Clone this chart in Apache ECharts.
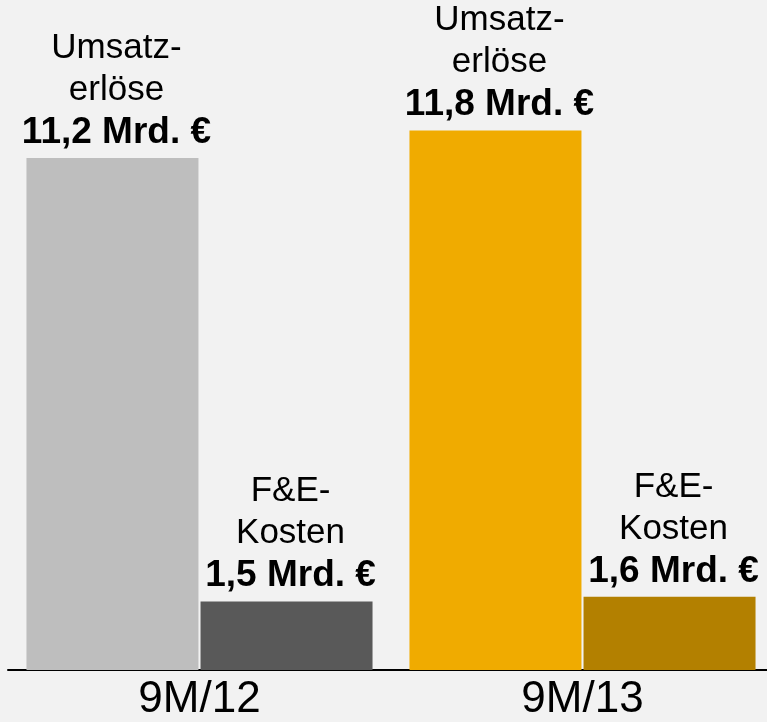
<!DOCTYPE html>
<html>
<head>
<meta charset="utf-8">
<script src="https://cdn.jsdelivr.net/npm/echarts@6/dist/echarts.min.js"></script>
<style>
html,body{margin:0;padding:0;background:#F2F2F2;}
#chart{width:767px;height:722px;}
</style>
</head>
<body>
<div id="chart"></div>
<script>
const categories = ['9M/12', '9M/13'];
const revenue = [11.2, 11.8];
const rdCosts = [1.5, 1.6];
const revenueTitle = 'Umsatz-\nerlöse';
const rdTitle = 'F&E-\nKosten';
const revenueColors = ['#BEBEBE', '#F0AB00'];
const rdColors = ['#595959', '#B38000'];

const FONT = '"Liberation Sans", Arial, sans-serif';
function fmt(v) { return v.toFixed(1).replace('.', ',') + ' Mrd. €'; }
function labelFor(title) {
  return {
    show: true,
    position: 'top',
    distance: 4,
    offset: [4, 0],
    align: 'center',
    formatter: function (p) {
      return title.split('\n').map(function (t) { return '{n|' + t + '}'; }).join('\n') + '\n{b|' + fmt(p.value) + '}';
    },
    rich: {
      n: { fontFamily: FONT, fontSize: 35, lineHeight: 42, color: '#000' },
      b: { fontFamily: FONT, fontSize: 37, fontWeight: 'bold', lineHeight: 43, color: '#000' }
    }
  };
}

const chart = echarts.init(document.getElementById('chart'), null, { renderer: 'canvas' });
chart.setOption({
  backgroundColor: '#F2F2F2',
  animation: false,
  grid: { left: 8, width: 766, top: 30, bottom: 52, containLabel: false, outerBoundsMode: 'none' },
  xAxis: {
    type: 'category',
    data: categories,
    axisLine: { show: true, lineStyle: { color: '#000', width: 2 } },
    axisTick: { show: false },
    axisLabel: { fontFamily: FONT, fontSize: 44, color: '#000', margin: 8 }
  },
  yAxis: {
    type: 'value', min: 0, max: 14, show: false,
    splitLine: { show: false }
  },
  series: [
    {
      name: 'Umsatzerlöse', type: 'bar', barWidth: 172, barGap: '1.2%',
      data: revenue.map(function (v, i) { return { value: v, itemStyle: { color: revenueColors[i] } }; }),
      label: labelFor(revenueTitle)
    },
    {
      name: 'F&E-Kosten', type: 'bar', barWidth: 172,
      data: rdCosts.map(function (v, i) { return { value: v, itemStyle: { color: rdColors[i] } }; }),
      label: labelFor(rdTitle)
    }
  ]
});
</script>
</body>
</html>
